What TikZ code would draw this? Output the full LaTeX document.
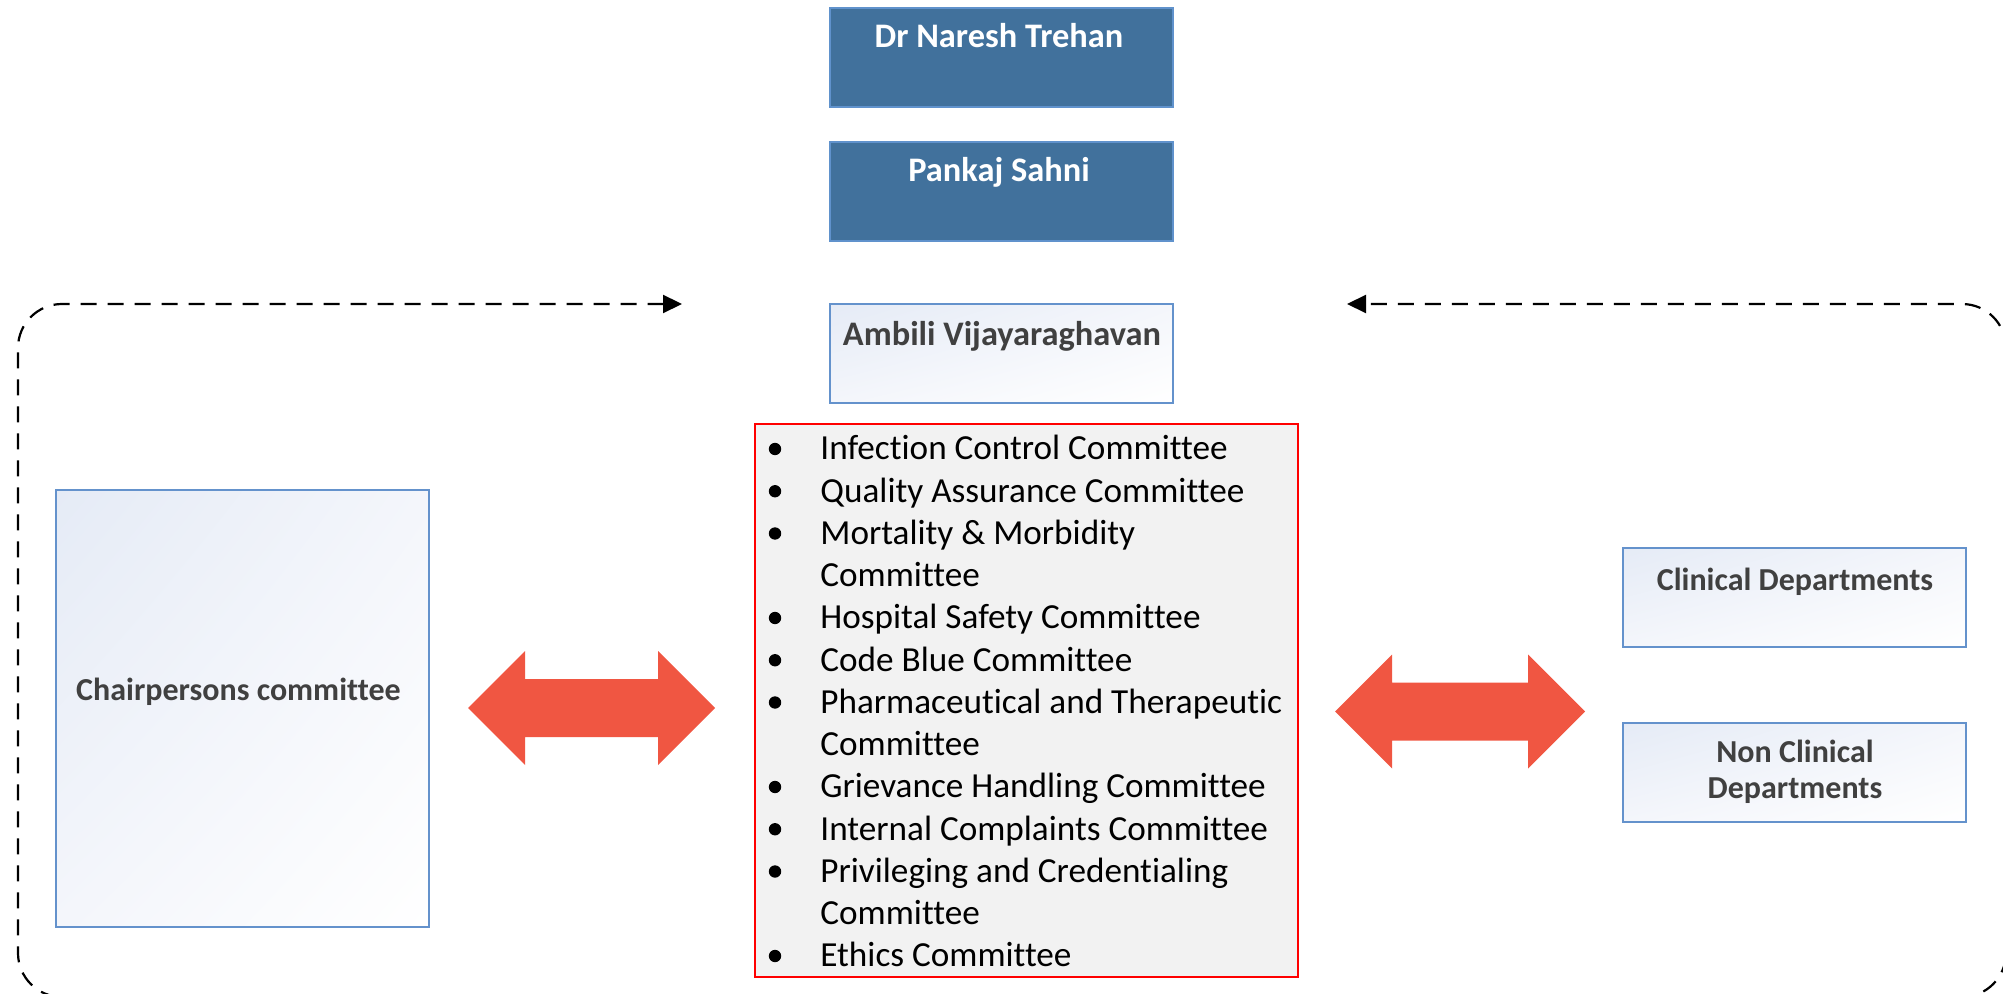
\documentclass[tikz,border=0pt]{standalone}
\usepackage{fontspec}
\setmainfont{Carlito}[Ligatures={NoCommon,NoContextual}]
\usetikzlibrary{arrows.meta,shadings}

\definecolor{bossblue}{RGB}{65,113,156}
\definecolor{bossedge}{RGB}{96,146,204}
\definecolor{paleedge}{RGB}{100,146,204}
\definecolor{paletop}{RGB}{229,235,246}
\definecolor{palemid}{RGB}{244,246,251}
\definecolor{textgray}{RGB}{64,64,64}
\definecolor{listgray}{RGB}{242,242,242}
\definecolor{fatred}{RGB}{240,86,66}

\newcommand{\fatarrow}[3]{%
  \fill[fatred] (#1,#3) -- (#1+57,#3-57) -- (#1+57,#3-29) -- (#2-57,#3-29)
    -- (#2-57,#3-57) -- (#2,#3) -- (#2-57,#3+57) -- (#2-57,#3+29)
    -- (#1+57,#3+29) -- (#1+57,#3+57) -- cycle;}

\tikzset{
  bossbox/.style={draw=bossedge, fill=bossblue, line width=1pt, inner sep=0pt,
    minimum width=171.5pt, minimum height=49.5pt},
  palebox/.style={draw=paleedge, line width=0.8pt, inner sep=0pt,
    upper left=paletop, upper right=palemid, lower left=palemid, lower right=white},
  bosstext/.style={font=\fontsize{17.2}{20}\selectfont\bfseries, text=white, anchor=base, inner sep=0pt},
  paletext/.style={font=\fontsize{16}{17.5}\selectfont\bfseries, text=textgray, anchor=base,
    align=center, inner sep=0pt},
  listtext/.style={font=\fontsize{17.6}{21.125}\selectfont, anchor=base west, inner sep=0pt},
  loopline/.style={line width=1.1pt, dash pattern=on 8pt off 5.5pt, rounded corners=22pt,
    arrows={Triangle[length=9.5pt, width=9pt]-Triangle[length=9.5pt, width=9pt]}},
}

\begin{document}
\begin{tikzpicture}[x=0.5pt, y=-0.5pt]
	\useasboundingbox (0,0) rectangle (2003,994);

	% top of the chain
	\node[bossbox] (trehan) at (1001.5,58) {};
	\node[bosstext] (trehanname) at (999,48) {Dr Naresh Trehan};
	\node[bossbox] (sahni) at (1001.5,192) {};
	\node[bosstext] (sahniname) at (999,182) {Pankaj Sahni};
	\node[palebox, minimum width=171.5pt, minimum height=49.5pt] (ambili) at (1001.5,353.5) {};
	\node[paletext, font=\fontsize{17.2}{20}\selectfont\bfseries] (ambiliname) at (1002,346) {Ambili Vijayaraghavan};

	% committees
	\node[draw=red, fill=listgray, line width=1.25pt, inner sep=0pt,
		minimum width=271.5pt, minimum height=276.5pt] (committees) at (1026.5,700.5) {};
	\node[listtext] (items) at (820,460) {\begin{tabular}[t]{@{}l@{}}
		Infection Control Committee\\
		Quality Assurance Committee\\
		Mortality \& Morbidity\\
		Committee\\
		Hospital Safety Committee\\
		Code Blue Committee\\
		Pharmaceutical and Therapeutic\\
		Committee\\
		Grievance Handling Committee\\
		Internal Complaints Committee\\
		Privileging and Credentialing\\
		Committee\\
		Ethics Committee
	\end{tabular}};
	\foreach \i in {0,1,2,4,5,6,8,9,10,12}
		\fill (775,449+42.25*\i) circle (6.2);

	% side boxes
	\node[palebox, minimum width=186.5pt, minimum height=218.5pt] (chair) at (242.5,708.5) {};
	\node[paletext] (chairname) at (238.5,700) {Chairpersons committee};
	\node[palebox, minimum width=171.5pt, minimum height=49.5pt] (clinical) at (1794.5,597.5) {};
	\node[paletext] (clinicalname) at (1795,590) {Clinical Departments};
	\node[palebox, minimum width=171.5pt, minimum height=49.5pt] (nonclinical) at (1794.5,772.5) {};
	\node[paletext, font=\fontsize{16}{18}\selectfont\bfseries] (nonclinicalname) at (1795,798) {Non Clinical\\Departments};

	% two way arrows
	\fatarrow{468}{715}{708}
	\fatarrow{1335}{1585}{711.5}

	% dashed loop round the whole
	\coordinate (loopL) at (682,304);
	\coordinate (loopR) at (1347,304);
	\draw[loopline] (loopL) -- (18,304) -- (18,997) -- (2006,997) -- (2006,304) -- (loopR);
\end{tikzpicture}
\end{document}
